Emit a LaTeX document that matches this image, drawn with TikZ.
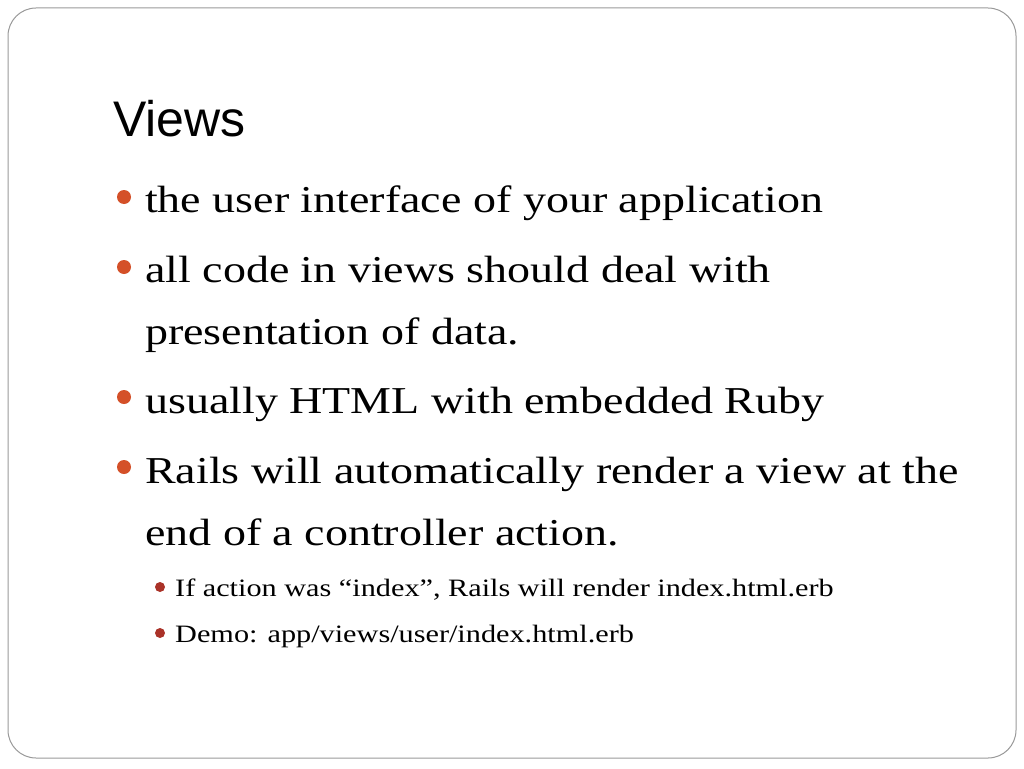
\documentclass[tikz,border=0pt]{standalone}
\usepackage{fontspec}
\setmainfont{Liberation Serif}
\newfontfamily\bodyfont[FakeStretch=1.21]{Liberation Serif}
\newfontfamily\titlefont{Liberation Sans}
\definecolor{bulletred}{RGB}{212,80,40}
\definecolor{subred}{RGB}{170,50,40}
\tikzset{
  itemtext/.style={anchor=base west, inner sep=0pt, font=\bodyfont\fontsize{38}{38}\selectfont},
  subtext/.style={anchor=base west, inner sep=0pt, font=\bodyfont\fontsize{25}{25}\selectfont},
  dotbig/.style={circle, fill=bulletred, inner sep=0pt, minimum size=14pt},
  dotsmall/.style={circle, fill=subred, inner sep=0pt, minimum size=10pt}
}
\begin{document}
\begin{tikzpicture}[x=1pt, y=-1pt]
    \useasboundingbox (0,0) rectangle (1024,768);
    \draw[gray!80, line width=1pt, rounded corners=28pt] (8,8) rectangle (1016,758);

    \node[anchor=base west, inner sep=0pt, font=\titlefont\fontsize{50}{50}\selectfont] (title) at (113,136) {Views};

    \node[itemtext] (item1) at (145,212) {the user interface of your application};
    \node[itemtext] (item2) at (145,282) {all code in views should deal with};
    \node[itemtext] (item2b) at (145,344) {presentation of data.};
    \node[itemtext] (item3) at (145,413) {usually HTML with embedded Ruby};
    \node[itemtext] (item4) at (145,483) {Rails will automatically render a view at the};
    \node[itemtext] (item4b) at (145,545) {end of a controller action.};
    \node[subtext] (sub1) at (175,596) {If action was “index”, Rails will render index.html.erb};
    \node[subtext] (sub2) at (175,642) {Demo: app/views/user/index.html.erb};

    \foreach \y in {197,267,397,467} \node[dotbig] (dot\y) at (124,\y) {};
    \foreach \y in {587,633} \node[dotsmall] (sdot\y) at (160,\y) {};
\end{tikzpicture}
\end{document}
